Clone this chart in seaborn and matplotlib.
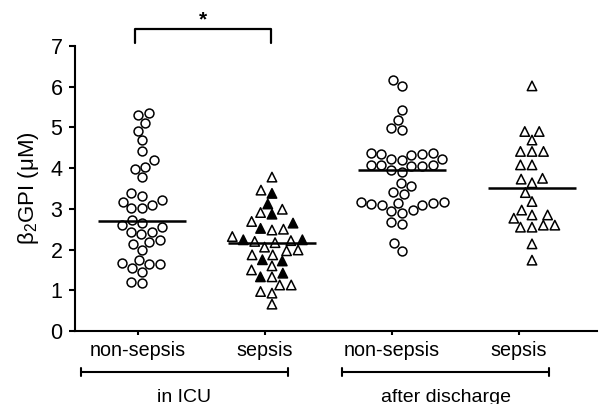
import numpy as np
import pandas as pd
import matplotlib
matplotlib.use("Agg")
import matplotlib.pyplot as plt
import matplotlib.transforms as mtransforms
import seaborn as sns

# ---- data ----
groups = ["icu_non", "icu_sep", "dis_non", "dis_sep"]
tick_labels = ["non-sepsis", "sepsis", "non-sepsis", "sepsis"]

icu_non_sepsis = [5.31, 5.36, 5.12, 4.92, 4.68, 4.41, 4.20, 4.04, 3.97, 3.78,
                  3.38, 3.32, 3.22, 3.10, 3.01, 3.01, 3.18, 2.66, 2.73, 2.60,
                  2.55, 2.44, 2.38, 2.44, 2.19, 2.14, 2.24, 1.99, 1.74, 1.66,
                  1.65, 1.46, 1.54, 1.65, 1.17, 1.21]
icu_sepsis_open = [3.78, 3.46, 2.99, 2.91, 2.69, 2.50, 2.48, 2.17, 2.22, 2.20,
                   2.32, 1.99, 1.87, 1.87, 1.97, 2.06, 1.60, 1.50, 1.33, 1.13,
                   1.13, 0.97, 0.93, 0.66]
icu_sepsis_filled = [3.38, 3.12, 2.87, 2.65, 2.52, 2.24, 2.24, 1.72, 1.75, 1.42, 1.33]
dis_non_sepsis = [6.17, 6.02, 5.43, 5.18, 4.98, 4.94, 4.36, 4.34, 4.33, 4.34,
                  4.38, 4.22, 4.20, 4.23, 4.08, 4.06, 4.05, 4.08, 4.07, 3.96,
                  3.90, 3.63, 3.55, 3.42, 3.36, 3.17, 3.12, 3.15, 3.10, 3.14,
                  3.09, 3.16, 2.97, 2.94, 2.90, 2.68, 2.64, 2.15, 1.97]
dis_sepsis = [6.02, 4.90, 4.90, 4.69, 4.41, 4.41, 4.41, 4.08, 4.08, 3.73,
              3.75, 3.64, 3.40, 3.18, 2.97, 2.85, 2.85, 2.77, 2.60, 2.55,
              2.55, 2.60, 2.14, 1.74]

y_ticks = [0, 1, 2, 3, 4, 5, 6, 7]
section_labels = ["in ICU", "after discharge"]

# ---- tables ----
circ_df = pd.DataFrame({
    "group": ["icu_non"] * len(icu_non_sepsis) + ["dis_non"] * len(dis_non_sepsis),
    "value": icu_non_sepsis + dis_non_sepsis,
})
tri_df = pd.DataFrame({
    "group": (["icu_sep"] * (len(icu_sepsis_open) + len(icu_sepsis_filled))
              + ["dis_sep"] * len(dis_sepsis)),
    "value": icu_sepsis_open + icu_sepsis_filled + dis_sepsis,
    "fill": (["open"] * len(icu_sepsis_open) + ["filled"] * len(icu_sepsis_filled)
             + ["open"] * len(dis_sepsis)),
})
all_df = pd.concat([circ_df, tri_df[["group", "value"]]], ignore_index=True)

# ---- style ----
sns.set_style("ticks")
plt.rcParams["font.family"] = ["Liberation Sans", "DejaVu Sans"]
plt.rcParams["mathtext.fontset"] = "custom"
plt.rcParams["mathtext.rm"] = "Liberation Sans"
plt.rcParams["mathtext.it"] = "Liberation Sans"
for k in ["text.color", "axes.labelcolor", "xtick.color", "ytick.color", "axes.edgecolor"]:
    plt.rcParams[k] = "black"

fig = plt.figure(figsize=(6.02, 4.04), dpi=100)
ax = fig.add_axes([75 / 602, 73 / 404, 522 / 602, 285 / 404])

sns.boxplot(data=all_df, x="group", y="value", order=groups,
            showbox=False, showcaps=False, showfliers=False,
            whiskerprops={"visible": False},
            medianprops={"color": "black", "linewidth": 1.8, "zorder": 5},
            width=0.68, ax=ax)

sns.swarmplot(data=circ_df, x="group", y="value", order=groups,
              marker="o", color="white", edgecolor="black", linewidth=1.1,
              size=6.4, ax=ax, zorder=3)
sns.swarmplot(data=tri_df, x="group", y="value", order=groups,
              hue="fill", hue_order=["open", "filled"],
              palette={"open": "white", "filled": "black"},
              marker="^", edgecolor="black", linewidth=1.1,
              size=6.8, ax=ax, legend=False, zorder=3)

ax.set_xlim(-0.515, 3.5)
ax.set_ylim(0, 7)
ax.set_yticks(y_ticks)
ax.set_xticks([-0.03, 0.946, 1.923, 2.9])
ax.set_xticklabels(tick_labels, fontsize=14.2)
ax.tick_params(axis="y", labelsize=15.5, direction="out", length=4, width=1.5, pad=5)
ax.tick_params(axis="x", direction="out", length=3, width=1.5, pad=4)
ax.set_xlabel("")
ax.set_ylabel(r"$\mathrm{\beta_2}$GPI ($\mathrm{\mu}$M)", fontsize=16, labelpad=7)

sns.despine(ax=ax)
for s in ["left", "bottom"]:
    ax.spines[s].set_linewidth(1.5)
    ax.spines[s].set_color("black")

# significance bracket
ax.plot([-0.05, -0.05, 0.99, 0.99], [7.07, 7.41, 7.41, 7.07],
        color="black", lw=1.6, clip_on=False)
ax.text(0.47, 7.42, "*", ha="center", va="bottom", fontsize=15, fontweight="bold")

# section brackets under the axis
tr = mtransforms.blended_transform_factory(ax.transData, fig.transFigure)
yb = 1 - 371.7 / 404
d = 4 / 404
for (x0, x1), lab in zip([(-0.47, 1.12), (1.54, 3.13)], section_labels):
    ax.plot([x0, x1], [yb, yb], color="black", lw=1.5, transform=tr, clip_on=False)
    ax.plot([x0, x0], [yb - d, yb + d], color="black", lw=1.5, transform=tr, clip_on=False)
    ax.plot([x1, x1], [yb - d, yb + d], color="black", lw=1.5, transform=tr, clip_on=False)
    ax.text((x0 + x1) / 2, 1 - 401.5 / 404, lab, ha="center", va="baseline",
            fontsize=14, transform=tr)

fig.savefig("out.png", dpi=100)
